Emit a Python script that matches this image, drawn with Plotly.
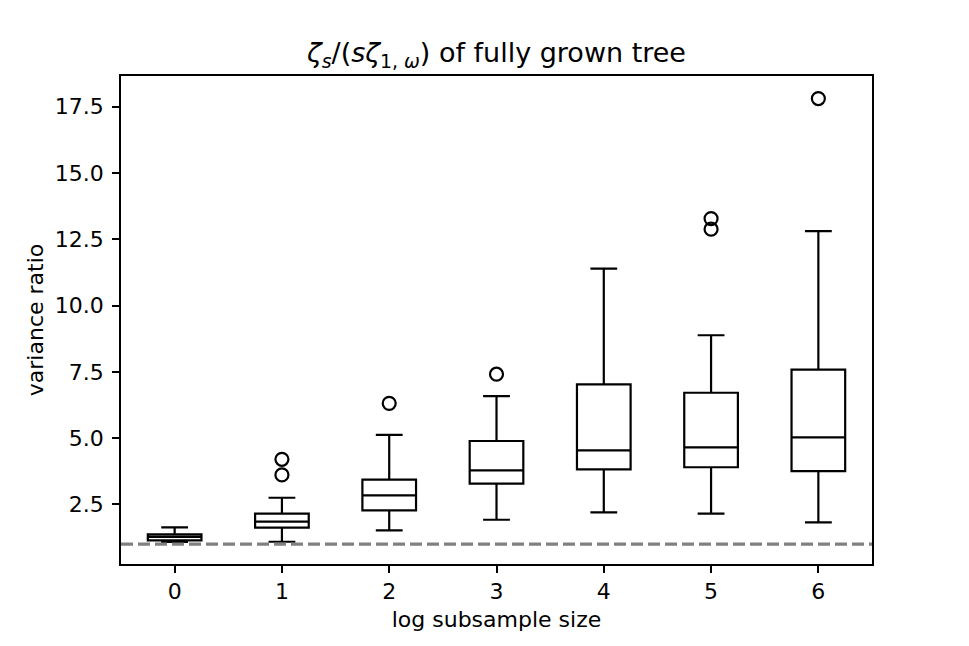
import plotly.graph_objects as go

positions = [0, 1, 2, 3, 4, 5, 6]
q1 = [1.14, 1.62, 2.27, 3.28, 3.82, 3.90, 3.75]
medians = [1.27, 1.85, 2.84, 3.78, 4.54, 4.65, 5.03]
q3 = [1.37, 2.15, 3.43, 4.89, 7.03, 6.71, 7.58]
lower_whisker = [1.08, 1.09, 1.52, 1.92, 2.20, 2.15, 1.82]
upper_whisker = [1.63, 2.75, 5.12, 6.58, 11.39, 8.88, 12.81]
outlier_x = [1, 1, 2, 3, 5, 5, 6]
outlier_y = [4.20, 3.61, 6.31, 7.41, 13.28, 12.88, 17.81]
reference_level = 1.0
y_ticks = [2.5, 5.0, 7.5, 10.0, 12.5, 15.0, 17.5]

FONT = "DejaVu Sans"

fig = go.Figure()
fig.add_trace(go.Box(
    x=positions, q1=q1, median=medians, q3=q3,
    lowerfence=lower_whisker, upperfence=upper_whisker,
    boxpoints=False, width=0.5, whiskerwidth=0.5,
    fillcolor="white", line=dict(color="black", width=2.2),
    showlegend=False, hoverinfo="skip",
))
fig.add_trace(go.Scatter(
    x=outlier_x, y=outlier_y, mode="markers",
    marker=dict(symbol="circle-open", size=13, color="black", line=dict(width=2.2)),
    showlegend=False,
))
fig.add_shape(type="line", xref="paper", x0=0, x1=1, yref="y", y0=reference_level, y1=reference_level,
              line=dict(color="#808080", width=3.2, dash="12px,5px"))

fig.update_layout(
    width=969, height=646,
    margin=dict(l=113, r=105, t=68, b=90),
    paper_bgcolor="white", plot_bgcolor="white",
    font=dict(family=FONT, size=22, color="black"),
    title=dict(text="<i>ζ<sub>s</sub></i>/(<i>sζ</i><sub>1, <i>ω</i></sub>) of fully grown tree",
               x=0.5, xref="paper", xanchor="center", y=1, yref="paper", yanchor="bottom",
               pad=dict(b=14), font=dict(size=27)),
    xaxis=dict(range=[-0.5, 6.5], tickvals=positions, ticktext=[str(p) for p in positions],
               ticks="outside", ticklen=7, tickwidth=1.8, tickcolor="black",
               showline=True, linecolor="black", linewidth=1.8, mirror=True,
               showgrid=False, zeroline=False, tickfont=dict(size=22),
               title=dict(text="log subsample size", standoff=8, font=dict(size=22))),
    yaxis=dict(range=[0.25, 18.66], tickvals=y_ticks, ticktext=[f"{v:.1f}" for v in y_ticks],
               ticks="outside", ticklen=7, tickwidth=1.8, tickcolor="black",
               showline=True, linecolor="black", linewidth=1.8, mirror=True,
               showgrid=False, zeroline=False, tickfont=dict(size=22), ticklabelstandoff=4,
               title=dict(text="variance ratio", standoff=5, font=dict(size=22))),
)
fig.write_html("out.html")
